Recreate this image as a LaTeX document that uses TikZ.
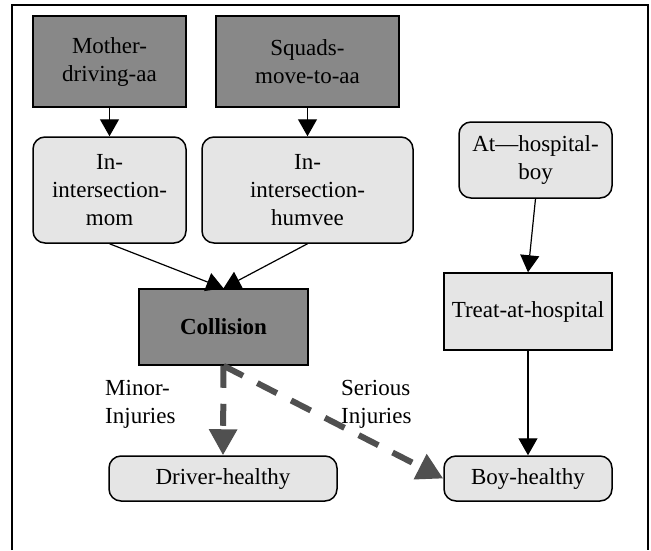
\documentclass[tikz,border=0pt]{standalone}
\usepackage{fontspec}
\setmainfont{Liberation Serif}
\usetikzlibrary{arrows.meta}
\usetikzlibrary{positioning}
\definecolor{darkbox}{RGB}{136,136,136}
\definecolor{lightbox}{RGB}{229,229,229}
\definecolor{dashgray}{RGB}{80,80,80}

\tikzset{
  event/.style={draw,line width=1.5pt,fill=darkbox,inner sep=0pt,align=center},
  state/.style={draw,line width=1.5pt,fill=lightbox,rounded corners=12pt,inner sep=0pt,align=center},
  action/.style={draw,line width=1.5pt,fill=lightbox,inner sep=0pt,align=center},
  link/.style={line width=1.2pt,-{Triangle[length=17pt,width=19pt]}},
  chance/.style={line width=6pt,dashgray,dash pattern=on 22pt off 16pt,-{Triangle[length=26pt,width=27pt]}}
}

\begin{document}
\begin{tikzpicture}[x=1pt,y=-1pt,font=\fontsize{23}{28}\selectfont]
\useasboundingbox (0,0) rectangle (651,550);
\draw[line width=1.8pt] (12,550)--(12,5)--(648,5)--(648,550);
% top row
\node[event,minimum width=153pt,minimum height=91pt] (mother) at (109.5,61.5) {Mother-\\driving-aa};
\node[event,minimum width=183pt,minimum height=91pt] (squads) at (307.5,61.5) {Squads-\\move-to-aa};
\node[state,minimum width=153pt,minimum height=106pt] (mom) at (109.5,190) {In-\\intersection-\\mom};
\node[state,minimum width=211pt,minimum height=106pt] (humvee) at (307.5,190) {In-\\intersection-\\humvee};
\node[state,minimum width=153pt,minimum height=76pt] (athosp) at (535.5,160) {At---hospital-\\boy};
\node[event,minimum width=169pt,minimum height=76pt] (collision) at (223.5,327) {\bfseries Collision};
\node[action,minimum width=168pt,minimum height=77pt] (treat) at (528,311.5) {Treat-at-hospital};
% outcomes
\node[state,minimum width=228pt,minimum height=45pt] (driver) at (223,478.5) {Driver-healthy};
\node[state,minimum width=168pt,minimum height=45pt] (boy) at (528,478.5) {Boy-healthy};
\node[anchor=west,align=left,inner sep=0pt] (minor) at (105,404) {Minor-\\Injuries};
\node[anchor=west,align=left,inner sep=0pt] (serious) at (341,404) {Serious\\Injuries};

\draw[link] (mother) -- (mom);
\draw[link] (squads) -- (humvee);
\draw[link] (mom.south) -- (collision.north);
\draw[link] (humvee.south) -- (collision.north);
\draw[link] (athosp.south) -- (treat.north);
\draw[link] (treat) -- (boy);
\draw[chance] (collision.south) -- (driver.north);
\draw[chance] (collision.south) -- (boy.west);
\end{tikzpicture}
\end{document}
